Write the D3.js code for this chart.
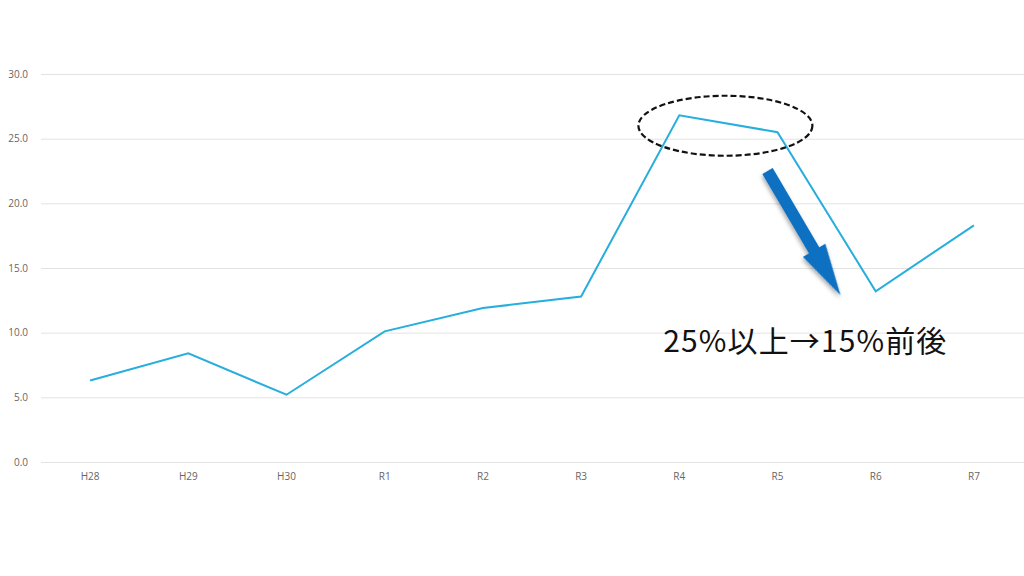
<!DOCTYPE html>
<html>
<head>
<meta charset="utf-8">
<script src="https://d3js.org/d3.v7.min.js"></script>
<style>
body{ margin:0; background:#fff; }
.tick text{ font-family:"Open Sans", "Noto Sans", sans-serif; fill:#666; font-size:10px; }
</style>
</head>
<body>
<svg class="chart"></svg>
<script>
// data
var years = ["H28", "H29", "H30", "R1", "R2", "R3", "R4", "R5", "R6", "R7"];
var rates = [6.3, 8.4, 5.2, 10.1, 11.9, 12.8, 26.8, 25.5, 13.2, 18.3];
var yTicks = [0, 5, 10, 15, 20, 25, 30];
var note = "25%以上→15%前後";

var width = 1024, height = 576;
var plot = {left: 41, right: 1023, top: 74, bottom: 462};

var svg = d3.select(".chart")
	.attr("width", width)
	.attr("height", height);

svg.append("rect").attr("width", width).attr("height", height).attr("fill", "#fff");

var x = d3.scaleBand().domain(years).range([plot.left, plot.right]);
var y = d3.scaleLinear().domain([0, 30]).range([plot.bottom, plot.top]);
var cx = function(d){ return x(d) + x.bandwidth() / 2; };

// gridlines + y labels
var yAxis = d3.axisLeft(y)
	.tickValues(yTicks)
	.tickSize(-(plot.right - plot.left + 1))
	.tickPadding(13)
	.tickFormat(d3.format(".1f"));

var gy = svg.append("g")
	.attr("transform", "translate(" + plot.left + ",0)")
	.call(yAxis);
gy.select(".domain").remove();
gy.selectAll(".tick line").attr("stroke", "#e3e3e3");

// x labels
var xAxis = d3.axisBottom(x).tickSize(0).tickPadding(11);
var gx = svg.append("g")
	.attr("transform", "translate(0," + plot.bottom + ")")
	.call(xAxis);
gx.select(".domain").remove();

// the line
var line = d3.line()
	.x(function(d, i){ return cx(years[i]); })
	.y(function(d){ return y(d); });

svg.append("path")
	.datum(rates)
	.attr("fill", "none")
	.attr("stroke", "#27aedd")
	.attr("stroke-width", 2)
	.attr("d", line);

// dashed ellipse round the peak
var ex = (cx("R4") + cx("R5")) / 2;
svg.append("ellipse")
	.attr("cx", ex - 3)
	.attr("cy", y(26))
	.attr("rx", 87)
	.attr("ry", 30)
	.attr("fill", "none")
	.attr("stroke", "#111")
	.attr("stroke-width", 2.2)
	.attr("stroke-dasharray", "6,3");

// blue arrow (with a soft shadow)
var defs = svg.append("defs");
var f = defs.append("filter").attr("id", "sh").attr("x", "-30%").attr("y", "-30%").attr("width", "160%").attr("height", "160%");
f.append("feDropShadow").attr("dx", 2).attr("dy", 2).attr("stdDeviation", 2)
	.attr("flood-color", "#000").attr("flood-opacity", 0.35);

var tail = [cx("R5") - 10, y(22.5)];
var tip = [cx("R5") + 63, y(12.9)];
var ang = Math.atan2(tip[1] - tail[1], tip[0] - tail[0]) * 180 / Math.PI;
var len = Math.hypot(tip[0] - tail[0], tip[1] - tail[1]);
var sw = 6, hw = 13, hl = 52;
svg.append("path")
	.attr("transform", "translate(" + tail[0] + "," + tail[1] + ") rotate(" + ang + ")")
	.attr("d", "M0," + (-sw) + "L" + (len - hl) + "," + (-sw) + "L" + (len - hl) + "," + (-hw) +
		"L" + len + ",0L" + (len - hl) + "," + hw + "L" + (len - hl) + "," + sw + "L0," + sw + "Z")
	.attr("fill", "#0b6fc1")
	.attr("filter", "url(#sh)");

// note
svg.append("text")
	.attr("x", cx("R4") - 16)
	.attr("y", 352)
	.attr("font-family", "'Noto Sans CJK JP', sans-serif")
	.attr("font-size", 30)
	.attr("fill", "#111")
	.attr("textLength", 283)
	.attr("lengthAdjust", "spacing")
	.text(note);
</script>
</body>
</html>
